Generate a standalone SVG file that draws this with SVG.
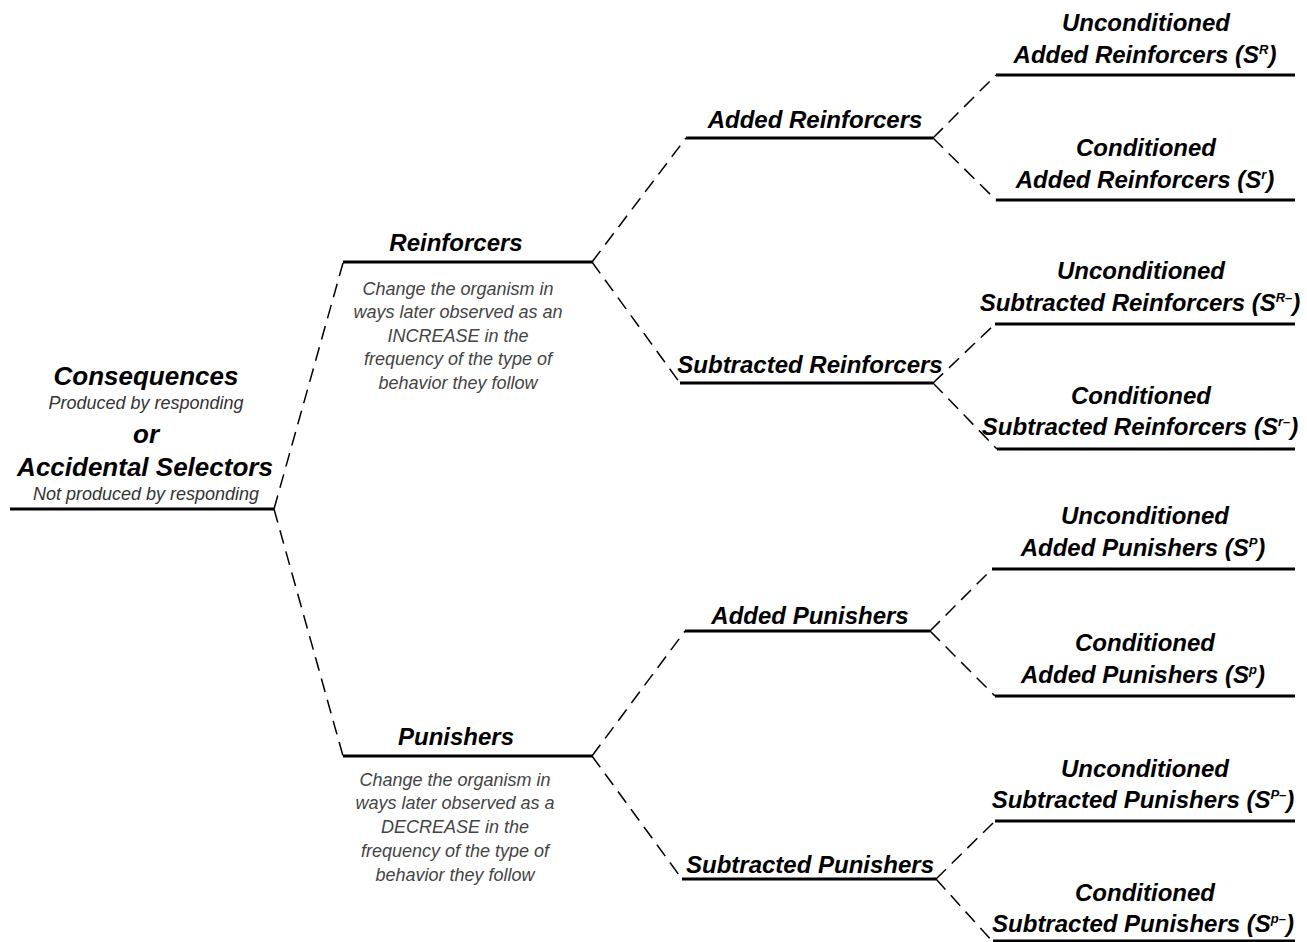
<svg xmlns="http://www.w3.org/2000/svg" width="1307" height="942" viewBox="0 0 1307 942">
<style>
.bg{fill:#fff}
.ln{stroke:#000;stroke-width:3;fill:none}
.dash{stroke:#000;stroke-width:1.5;fill:none;stroke-dasharray:14 8}
text{font-family:"Liberation Sans",Arial,sans-serif;font-style:italic;text-anchor:middle;fill:#000}
.h{font-weight:bold;font-size:24px}
.hl{font-weight:bold;font-size:26px}
.sub{font-size:18px;fill:#333}
.d{font-size:18px;fill:#444}
.sup{font-size:13px}
</style>
<rect class="bg" width="1307" height="942"/>
<g id="connectors">
<path class="dash" d="M274,509 L343,263 M274,509 L343,756"/>
<path class="dash" d="M592,262 L686,138 M592,262 L680,383"/>
<path class="dash" d="M592,756 L685,631 M592,756 L682,879"/>
<path class="dash" d="M933,138 L996,75 M933,138 L996,200"/>
<path class="dash" d="M933,383 L995,324 M933,383 L997,449"/>
<path class="dash" d="M930,631 L992,569 M930,631 L995,696"/>
<path class="dash" d="M936,879 L995,821 M936,879 L993,942"/>
</g>
<g id="root">
<line class="ln" x1="10" y1="509" x2="274" y2="509"/>
<text class="hl" x="146" y="385">Consequences</text>
<text class="sub" x="146" y="409">Produced by responding</text>
<text class="hl" x="146" y="443">or</text>
<text class="hl" x="145" y="476">Accidental Selectors</text>
<text class="sub" x="146" y="500">Not produced by responding</text>
</g>
<g id="reinforcers">
<line class="ln" x1="343" y1="262" x2="592" y2="262"/>
<text class="h" x="456" y="251">Reinforcers</text>
<text class="d" x="458" y="295">Change the organism in</text>
<text class="d" x="458" y="318">ways later observed as an</text>
<text class="d" x="458" y="342">INCREASE in the</text>
<text class="d" x="458" y="365">frequency of the type of</text>
<text class="d" x="458" y="389">behavior they follow</text>
</g>
<g id="punishers">
<line class="ln" x1="343" y1="756" x2="592" y2="756"/>
<text class="h" x="456" y="745">Punishers</text>
<text class="d" x="455" y="786">Change the organism in</text>
<text class="d" x="455" y="809">ways later observed as a</text>
<text class="d" x="455" y="833">DECREASE in the</text>
<text class="d" x="455" y="857">frequency of the type of</text>
<text class="d" x="455" y="881">behavior they follow</text>
</g>
<g id="added-reinforcers">
<line class="ln" x1="686" y1="138" x2="933" y2="138"/>
<text class="h" x="815" y="128">Added Reinforcers</text>
</g>
<g id="subtracted-reinforcers">
<line class="ln" x1="680" y1="383" x2="933" y2="383"/>
<text class="h" x="810" y="373">Subtracted Reinforcers</text>
</g>
<g id="added-punishers">
<line class="ln" x1="685" y1="631" x2="930" y2="631"/>
<text class="h" x="810" y="624">Added Punishers</text>
</g>
<g id="subtracted-punishers">
<line class="ln" x1="682" y1="879" x2="936" y2="879"/>
<text class="h" x="810" y="873">Subtracted Punishers</text>
</g>
<g id="uncond-added-reinforcers">
<line class="ln" x1="996" y1="75" x2="1295" y2="75"/>
<text class="h" x="1146" y="31">Unconditioned</text>
<text class="h" x="1145" y="63">Added Reinforcers (S<tspan class="sup" dy="-9">R</tspan><tspan dy="9">)</tspan></text>
</g>
<g id="cond-added-reinforcers">
<line class="ln" x1="996" y1="200" x2="1295" y2="200"/>
<text class="h" x="1146" y="156">Conditioned</text>
<text class="h" x="1145" y="188">Added Reinforcers (S<tspan class="sup" dy="-9">r</tspan><tspan dy="9">)</tspan></text>
</g>
<g id="uncond-subtracted-reinforcers">
<line class="ln" x1="995" y1="324" x2="1295" y2="324"/>
<text class="h" x="1141" y="279">Unconditioned</text>
<text class="h" x="1140" y="311">Subtracted Reinforcers (S<tspan class="sup" dy="-9">R–</tspan><tspan dy="9">)</tspan></text>
</g>
<g id="cond-subtracted-reinforcers">
<line class="ln" x1="997" y1="449" x2="1295" y2="449"/>
<text class="h" x="1141" y="404">Conditioned</text>
<text class="h" x="1140" y="435">Subtracted Reinforcers (S<tspan class="sup" dy="-9">r–</tspan><tspan dy="9">)</tspan></text>
</g>
<g id="uncond-added-punishers">
<line class="ln" x1="992" y1="569" x2="1295" y2="569"/>
<text class="h" x="1145" y="524">Unconditioned</text>
<text class="h" x="1143" y="556">Added Punishers (S<tspan class="sup" dy="-9">P</tspan><tspan dy="9">)</tspan></text>
</g>
<g id="cond-added-punishers">
<line class="ln" x1="995" y1="696" x2="1295" y2="696"/>
<text class="h" x="1145" y="651">Conditioned</text>
<text class="h" x="1143" y="683">Added Punishers (S<tspan class="sup" dy="-9">p</tspan><tspan dy="9">)</tspan></text>
</g>
<g id="uncond-subtracted-punishers">
<line class="ln" x1="995" y1="821" x2="1295" y2="821"/>
<text class="h" x="1145" y="777">Unconditioned</text>
<text class="h" x="1143" y="808">Subtracted Punishers (S<tspan class="sup" dy="-9">P–</tspan><tspan dy="9">)</tspan></text>
</g>
<g id="cond-subtracted-punishers">
<line class="ln" x1="993" y1="941" x2="1295" y2="941"/>
<text class="h" x="1145" y="901">Conditioned</text>
<text class="h" x="1143" y="932">Subtracted Punishers (S<tspan class="sup" dy="-9">p–</tspan><tspan dy="9">)</tspan></text>
</g>
</svg>
